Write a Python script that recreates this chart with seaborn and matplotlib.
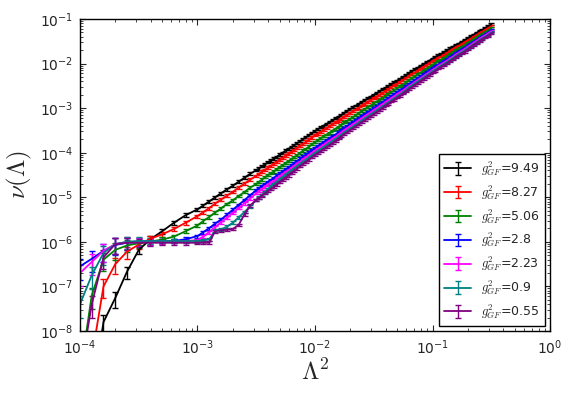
import numpy as np
import matplotlib
matplotlib.use("Agg")
from matplotlib import pyplot as plt
from matplotlib.ticker import LogLocator, NullFormatter
import seaborn as sns

# log10 of Lambda^2 (shared grid for every coupling)
log_lam2 = [-4.00, -3.90, -3.80, -3.70, -3.60, -3.50, -3.40, -3.30, -3.20, -3.10,
            -3.00, -2.95, -2.90, -2.85, -2.80, -2.75, -2.70, -2.65, -2.60, -2.55,
            -2.500, -2.475, -2.450, -2.425, -2.400, -2.375, -2.350, -2.325, -2.300, -2.275,
            -2.250, -2.225, -2.200, -2.175, -2.150, -2.125, -2.100, -2.075, -2.050, -2.025,
            -2.000, -1.975, -1.950, -1.925, -1.900, -1.875, -1.850, -1.825, -1.800, -1.775,
            -1.750, -1.725, -1.700, -1.675, -1.650, -1.625, -1.600, -1.575, -1.550, -1.525,
            -1.500, -1.475, -1.450, -1.425, -1.400, -1.375, -1.350, -1.325, -1.300, -1.275,
            -1.250, -1.225, -1.200, -1.175, -1.150, -1.125, -1.100, -1.075, -1.050, -1.025,
            -1.000, -0.975, -0.950, -0.925, -0.900, -0.875, -0.850, -0.825, -0.800, -0.775,
            -0.750, -0.725, -0.700, -0.675, -0.650, -0.625, -0.600, -0.575, -0.550, -0.525,
            -0.500]

# log10 of nu(Lambda)
log_nu_949 = [-11.0, -9.50, -7.80, -7.26, -6.67, -6.18, -5.94, -5.76, -5.57, -5.40,
              -5.27, -5.18, -5.09, -5.00, -4.91, -4.82, -4.74, -4.65, -4.56, -4.47,
              -4.39, -4.35, -4.30, -4.26, -4.21, -4.17, -4.13, -4.09, -4.04, -4.00,
              -3.95, -3.91, -3.87, -3.83, -3.78, -3.74, -3.69, -3.65, -3.60, -3.56,
              -3.51, -3.47, -3.43, -3.39, -3.35, -3.31, -3.27, -3.23, -3.19, -3.15,
              -3.10, -3.06, -3.02, -2.98, -2.94, -2.90, -2.86, -2.82, -2.78, -2.74,
              -2.70, -2.66, -2.62, -2.58, -2.54, -2.50, -2.46, -2.42, -2.38, -2.34,
              -2.30, -2.26, -2.21, -2.17, -2.13, -2.09, -2.05, -2.01, -1.97, -1.93,
              -1.89, -1.85, -1.81, -1.78, -1.74, -1.70, -1.66, -1.62, -1.58, -1.55,
              -1.51, -1.47, -1.43, -1.39, -1.35, -1.31, -1.27, -1.24, -1.20, -1.16,
              -1.12]
log_nu_827 = [-9.50, -8.60, -7.00, -6.50, -6.22, -6.06, -5.93, -5.83, -5.71, -5.57,
              -5.42, -5.33, -5.24, -5.14, -5.05, -4.96, -4.88, -4.78, -4.69, -4.60,
              -4.52, -4.47, -4.42, -4.38, -4.33, -4.29, -4.25, -4.21, -4.16, -4.11,
              -4.06, -4.02, -3.98, -3.94, -3.89, -3.85, -3.80, -3.75, -3.70, -3.66,
              -3.61, -3.57, -3.53, -3.49, -3.45, -3.41, -3.36, -3.32, -3.28, -3.24,
              -3.19, -3.15, -3.11, -3.07, -3.03, -2.99, -2.94, -2.90, -2.86, -2.82,
              -2.78, -2.74, -2.70, -2.66, -2.62, -2.58, -2.53, -2.49, -2.45, -2.41,
              -2.37, -2.33, -2.28, -2.24, -2.20, -2.16, -2.11, -2.07, -2.03, -1.99,
              -1.95, -1.91, -1.87, -1.84, -1.80, -1.76, -1.71, -1.67, -1.63, -1.60,
              -1.56, -1.52, -1.48, -1.44, -1.40, -1.36, -1.31, -1.28, -1.24, -1.20,
              -1.16]
log_nu_506 = [-9.00, -7.20, -6.40, -6.18, -6.08, -6.03, -5.99, -5.95, -5.88, -5.76,
              -5.63, -5.53, -5.44, -5.34, -5.25, -5.15, -5.07, -4.97, -4.88, -4.78,
              -4.70, -4.65, -4.60, -4.55, -4.50, -4.46, -4.42, -4.37, -4.32, -4.28,
              -4.23, -4.19, -4.14, -4.10, -4.05, -4.00, -3.95, -3.91, -3.86, -3.81,
              -3.76, -3.72, -3.67, -3.63, -3.59, -3.55, -3.50, -3.46, -3.42, -3.37,
              -3.32, -3.28, -3.24, -3.20, -3.15, -3.11, -3.06, -3.02, -2.98, -2.94,
              -2.89, -2.85, -2.81, -2.77, -2.72, -2.68, -2.64, -2.60, -2.55, -2.51,
              -2.47, -2.42, -2.37, -2.33, -2.28, -2.24, -2.20, -2.16, -2.11, -2.07,
              -2.03, -1.99, -1.94, -1.91, -1.87, -1.83, -1.78, -1.74, -1.69, -1.66,
              -1.62, -1.58, -1.53, -1.49, -1.45, -1.41, -1.36, -1.33, -1.29, -1.25,
              -1.20]
log_nu_280 = [-6.55, -6.38, -6.20, -6.07, -6.02, -6.00, -5.99, -5.99, -5.98, -5.94,
              -5.87, -5.78, -5.69, -5.59, -5.50, -5.39, -5.28, -5.17, -5.06, -4.95,
              -4.84, -4.79, -4.74, -4.70, -4.65, -4.61, -4.56, -4.51, -4.46, -4.42,
              -4.37, -4.33, -4.28, -4.23, -4.18, -4.13, -4.08, -4.04, -3.99, -3.94,
              -3.89, -3.85, -3.80, -3.76, -3.71, -3.67, -3.63, -3.59, -3.54, -3.49,
              -3.44, -3.40, -3.35, -3.31, -3.26, -3.22, -3.17, -3.13, -3.09, -3.05,
              -3.00, -2.96, -2.91, -2.87, -2.82, -2.78, -2.73, -2.69, -2.64, -2.60,
              -2.56, -2.51, -2.46, -2.42, -2.37, -2.33, -2.28, -2.24, -2.19, -2.15,
              -2.10, -2.06, -2.02, -1.98, -1.94, -1.90, -1.85, -1.81, -1.76, -1.72,
              -1.68, -1.64, -1.59, -1.55, -1.51, -1.47, -1.42, -1.38, -1.34, -1.30,
              -1.25]
log_nu_223 = [-6.70, -6.45, -6.20, -6.05, -6.00, -5.99, -5.99, -5.99, -5.99, -5.98,
              -5.96, -5.88, -5.78, -5.67, -5.56, -5.46, -5.35, -5.24, -5.13, -5.02,
              -4.91, -4.86, -4.81, -4.76, -4.71, -4.67, -4.63, -4.58, -4.53, -4.48,
              -4.43, -4.39, -4.34, -4.29, -4.24, -4.20, -4.15, -4.10, -4.05, -4.00,
              -3.95, -3.91, -3.86, -3.82, -3.77, -3.73, -3.68, -3.64, -3.59, -3.54,
              -3.49, -3.45, -3.40, -3.36, -3.31, -3.27, -3.22, -3.18, -3.13, -3.09,
              -3.04, -3.00, -2.95, -2.91, -2.86, -2.82, -2.77, -2.73, -2.68, -2.64,
              -2.60, -2.55, -2.50, -2.46, -2.41, -2.37, -2.32, -2.28, -2.23, -2.19,
              -2.14, -2.10, -2.05, -2.01, -1.97, -1.93, -1.88, -1.84, -1.79, -1.75,
              -1.71, -1.67, -1.62, -1.58, -1.53, -1.49, -1.44, -1.40, -1.36, -1.32,
              -1.27]
log_nu_090 = [-7.40, -6.75, -6.25, -6.05, -6.00, -5.98, -5.98, -5.98, -5.98, -5.98,
              -5.98, -5.97, -5.94, -5.75, -5.72, -5.66, -5.57, -5.45, -5.33, -5.20,
              -5.06, -5.00, -4.94, -4.88, -4.81, -4.76, -4.70, -4.65, -4.59, -4.54,
              -4.48, -4.44, -4.39, -4.34, -4.29, -4.24, -4.19, -4.15, -4.10, -4.05,
              -4.00, -3.96, -3.91, -3.87, -3.82, -3.78, -3.73, -3.69, -3.64, -3.59,
              -3.54, -3.50, -3.45, -3.41, -3.36, -3.32, -3.27, -3.23, -3.18, -3.14,
              -3.09, -3.05, -3.00, -2.96, -2.91, -2.87, -2.82, -2.78, -2.73, -2.69,
              -2.64, -2.59, -2.53, -2.49, -2.44, -2.40, -2.35, -2.31, -2.26, -2.22,
              -2.17, -2.13, -2.08, -2.04, -2.00, -1.96, -1.91, -1.87, -1.82, -1.78,
              -1.74, -1.70, -1.65, -1.61, -1.56, -1.52, -1.47, -1.43, -1.39, -1.35,
              -1.30]
log_nu_055 = [-9.00, -7.40, -6.35, -6.05, -6.02, -6.02, -6.02, -6.02, -6.02, -6.02,
              -6.02, -6.02, -6.02, -5.76, -5.74, -5.73, -5.71, -5.62, -5.38, -5.18,
              -5.06, -5.01, -4.96, -4.91, -4.86, -4.81, -4.76, -4.71, -4.66, -4.61,
              -4.56, -4.51, -4.45, -4.40, -4.35, -4.30, -4.25, -4.20, -4.15, -4.10,
              -4.05, -4.01, -3.96, -3.92, -3.87, -3.83, -3.78, -3.73, -3.68, -3.63,
              -3.58, -3.54, -3.49, -3.45, -3.40, -3.36, -3.31, -3.27, -3.22, -3.18,
              -3.13, -3.09, -3.04, -2.99, -2.94, -2.90, -2.85, -2.81, -2.76, -2.72,
              -2.67, -2.62, -2.57, -2.53, -2.48, -2.44, -2.39, -2.34, -2.29, -2.25,
              -2.20, -2.16, -2.11, -2.07, -2.03, -1.99, -1.94, -1.90, -1.85, -1.81,
              -1.77, -1.73, -1.68, -1.63, -1.58, -1.54, -1.49, -1.45, -1.41, -1.37,
              -1.32]

# relative error on nu at each grid point
rel_err = [0.50, 0.50, 0.45, 0.40, 0.30, 0.20, 0.15, 0.12, 0.10, 0.10,
           0.08, 0.08, 0.08, 0.08, 0.08, 0.07, 0.07, 0.07, 0.07, 0.07,
           0.06, 0.06, 0.06, 0.06, 0.06, 0.06, 0.06, 0.06, 0.06, 0.06,
           0.06, 0.06, 0.06, 0.06, 0.06, 0.06, 0.06, 0.06, 0.06, 0.06,
           0.05, 0.05, 0.05, 0.05, 0.05, 0.05, 0.05, 0.05, 0.05, 0.05,
           0.05, 0.05, 0.05, 0.05, 0.05, 0.05, 0.05, 0.05, 0.05, 0.05,
           0.05, 0.05, 0.05, 0.05, 0.05, 0.05, 0.05, 0.05, 0.05, 0.05,
           0.05, 0.05, 0.05, 0.05, 0.05, 0.05, 0.05, 0.05, 0.05, 0.05,
           0.05, 0.05, 0.05, 0.05, 0.05, 0.05, 0.05, 0.05, 0.05, 0.05,
           0.05, 0.05, 0.05, 0.05, 0.05, 0.05, 0.05, 0.05, 0.05, 0.05,
           0.05]

couplings = ["9.49", "8.27", "5.06", "2.8", "2.23", "0.9", "0.55"]
colors = ["black", "red", "green", "blue", "magenta", "teal", "purple"]
series = [log_nu_949, log_nu_827, log_nu_506, log_nu_280, log_nu_223, log_nu_090, log_nu_055]

sns.set_style("ticks", {"xtick.direction": "in", "ytick.direction": "in"})
sns.set_palette(colors)
plt.rcParams["font.family"] = ["DejaVu Sans"]
plt.rcParams["mathtext.fontset"] = "cm"
plt.rcParams["axes.unicode_minus"] = False

fig = plt.figure(figsize=(5.73, 3.97), dpi=100)
ax = fig.add_axes([0.1396, 0.1662, 0.8203, 0.7859])

lam2 = 10 ** np.array(log_lam2)
for g, col, lny in zip(couplings, colors, series):
    nu = 10 ** np.array(lny)
    ax.errorbar(lam2, nu, yerr=nu * np.array(rel_err), color=col, lw=1.3,
                elinewidth=1.0, capsize=2.2, label=r"$g^2_{GF}$=" + g)

ax.set_xscale("log")
ax.set_yscale("log")
ax.set_xlim(1e-4, 1)
ax.set_ylim(1e-8, 1e-1)
ax.yaxis.set_major_locator(LogLocator(base=10, numticks=20))
ax.yaxis.set_minor_locator(LogLocator(base=10, subs=np.arange(2, 10), numticks=100))
ax.yaxis.set_minor_formatter(NullFormatter())
ax.xaxis.set_minor_locator(LogLocator(base=10, subs=np.arange(2, 10), numticks=100))
ax.xaxis.set_minor_formatter(NullFormatter())
ax.tick_params(which="both", direction="in", top=True, right=True, labelsize=10)
ax.tick_params(which="major", length=4.5, width=0.8, pad=5)
ax.tick_params(which="minor", length=2.2, width=0.6)
for s in ax.spines.values():
    s.set_linewidth(1.0)
    s.set_color("black")

ax.set_xlabel(r"$\Lambda^2$", fontsize=18, labelpad=2)
ax.set_ylabel(r"$\nu(\Lambda)$", fontsize=18, labelpad=4)

leg = ax.legend(loc="lower right", fontsize=9, fancybox=False, framealpha=1,
                edgecolor="black", numpoints=1, handlelength=2.2,
                labelspacing=0.4, borderaxespad=0.4)
leg.get_frame().set_linewidth(1.0)

fig.savefig("out.png", dpi=100)
